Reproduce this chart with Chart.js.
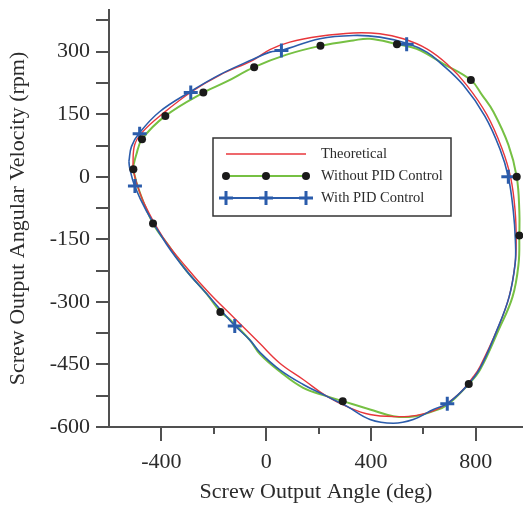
<!DOCTYPE html>
<html lang="en">
<head>
  <meta charset="UTF-8">
  <title>Screw Output Phase Plot</title>
  <script src="https://cdn.jsdelivr.net/npm/chart.js"></script>
  <style>
    html, body {
      margin: 0;
      padding: 0;
      background: #fff;
      overflow: hidden;
    }
    #wrap {
      position: relative;
      width: 533px;
      height: 508px;
    }
  </style>
</head>
<body>
  <div id="wrap"><canvas id="phaseChart"></canvas></div>

  <script>
    // curves (angle in deg, angular velocity in rpm), traced clockwise
    const theoX = [-509, -502, -470, -394, -285, -177, -50, 14, 90, 205, 332, 434, 523, 613, 689, 765, 842, 899, 933, 950, 954, 950, 927, 881, 816, 791, 740, 663, 574, 485, 396, 319, 230, 141, 52, -24, -126, -216, -305, -394, -464, -497, -509];
    const theoY = [22, 77, 109, 152, 204, 244, 280, 305, 323, 337, 345, 343, 331, 307, 271, 220, 149, 69, -2, -82, -153, -208, -288, -367, -455, -479, -518, -554, -572, -575, -570, -554, -526, -486, -447, -400, -336, -280, -217, -145, -66, -10, 22];

    const noPidX = [-509, -496, -474, -385, -240, -152, -46, 78, 207, 332, 396, 499, 574, 676, 781, 824, 867, 924, 956, 966, 966, 963, 940, 887, 816, 773, 689, 638, 561, 485, 396, 292, 230, 141, 52, -24, -63, -139, -175, -228, -305, -368, -432, -489, -509];
    const noPidY = [21, 53, 90, 146, 202, 228, 263, 293, 314, 327, 331, 318, 307, 271, 232, 196, 156, 77, 0, -82, -141, -209, -288, -367, -463, -497, -548, -562, -575, -574, -558, -538, -526, -506, -467, -425, -391, -342, -324, -280, -225, -169, -112, -26, 21];

    const pidX = [-524, -514, -483, -407, -290, -177, -50, 14, 58, 205, 332, 434, 536, 613, 663, 752, 835, 893, 924, 943, 951, 950, 927, 881, 816, 765, 691, 638, 561, 485, 396, 307, 230, 141, 52, -24, -63, -120, -139, -228, -305, -381, -457, -502, -521, -524];
    const pidY = [37, 73, 106, 156, 204, 245, 282, 299, 303, 331, 339, 335, 320, 299, 274, 220, 145, 65, 0, -82, -153, -208, -288, -367, -459, -502, -544, -558, -582, -591, -582, -550, -526, -498, -463, -421, -391, -357, -344, -280, -225, -161, -82, -22, 21, 37];

    // sampled markers
    const noPidDotX = [-507, -474, -385, -240, -46, 207, 499, 781, 956, 966, 773, 292, -175, -432];
    const noPidDotY = [18, 90, 146, 202, 263, 314, 318, 232, 0, -141, -497, -538, -324, -112];
    const pidCrossX = [-501, -483, -288, 58, 536, 924, 691, -120];
    const pidCrossY = [-22, 103, 202, 303, 318, 0, -544, -358];

    const xLabelTicks = [-400, 0, 400, 800];
    const xAllTicks = [-400, -200, 0, 200, 400, 600, 800];
    const yLabelTicks = [-600, -450, -300, -150, 0, 150, 300];
    const yAllTicks = [-600, -525, -450, -375, -300, -225, -150, -75, 0, 75, 150, 225, 300, 375];

    const legendItems = ["Theoretical", "Without PID Control", "With PID Control"];

    const RED = "#e8363b";
    const GREEN = "#76c043";
    const BLUE = "#2b5cab";
    const AXIS = "#505050";
    const TEXT = "#2b2b2b";
    const SERIF = "'Liberation Serif', 'Times New Roman', serif";

    function pts(xs, ys) {
      return xs.map((x, i) => ({x: x, y: ys[i]}));
    }

    const axisTicks = {
      id: "axisTicks",
      afterDraw(chart) {
        const {ctx, chartArea, scales} = chart;
        ctx.save();
        ctx.strokeStyle = AXIS;
        ctx.lineWidth = 2;
        ctx.beginPath();
        xAllTicks.forEach(v => {
          const px = Math.round(scales.x.getPixelForValue(v));
          const len = xLabelTicks.includes(v) ? 14 : 7;
          ctx.moveTo(px, chartArea.bottom);
          ctx.lineTo(px, chartArea.bottom + len);
        });
        yAllTicks.forEach(v => {
          const py = Math.round(scales.y.getPixelForValue(v));
          ctx.moveTo(chartArea.left - 13, py);
          ctx.lineTo(chartArea.left, py);
        });
        ctx.stroke();
        ctx.restore();
      }
    };

    function drawCross(ctx, x, y, r) {
      ctx.beginPath();
      ctx.moveTo(x - r, y);
      ctx.lineTo(x + r, y);
      ctx.moveTo(x, y - r);
      ctx.lineTo(x, y + r);
      ctx.stroke();
    }

    const boxLegend = {
      id: "boxLegend",
      afterDraw(chart) {
        const ctx = chart.ctx;
        const bx = 213, by = 138, bw = 238, bh = 78;
        ctx.save();
        ctx.fillStyle = "#fff";
        ctx.fillRect(bx, by, bw, bh);
        ctx.strokeStyle = "#333";
        ctx.lineWidth = 1.5;
        ctx.strokeRect(bx, by, bw, bh);

        const rows = [154, 176, 198];
        const x0 = 226, x1 = 306;

        ctx.lineWidth = 1.5;
        ctx.strokeStyle = RED;
        ctx.beginPath(); ctx.moveTo(x0, rows[0]); ctx.lineTo(x1, rows[0]); ctx.stroke();

        ctx.lineWidth = 2;
        ctx.strokeStyle = GREEN;
        ctx.beginPath(); ctx.moveTo(x0, rows[1]); ctx.lineTo(x1, rows[1]); ctx.stroke();
        ctx.fillStyle = "#1a1a1a";
        [x0, (x0 + x1) / 2, x1].forEach(px => {
          ctx.beginPath(); ctx.arc(px, rows[1], 4, 0, Math.PI * 2); ctx.fill();
        });

        ctx.lineWidth = 2;
        ctx.strokeStyle = BLUE;
        ctx.beginPath(); ctx.moveTo(x0, rows[2]); ctx.lineTo(x1, rows[2]); ctx.stroke();
        ctx.lineWidth = 3;
        [x0, (x0 + x1) / 2, x1].forEach(px => drawCross(ctx, px, rows[2], 7));

        ctx.fillStyle = TEXT;
        ctx.font = "14.5px " + SERIF;
        ctx.textBaseline = "middle";
        ctx.textAlign = "left";
        legendItems.forEach((t, i) => ctx.fillText(t, 321, rows[i]));
        ctx.restore();
      }
    };

    const curve = (label, xs, ys, color, width, order) => ({
      label: label,
      data: pts(xs, ys),
      showLine: true,
      borderColor: color,
      borderWidth: width,
      backgroundColor: color,
      pointRadius: 0,
      tension: 0.4,
      fill: false,
      order: order
    });

    new Chart(document.getElementById("phaseChart"), {
      type: "scatter",
      data: {
        datasets: [
          {
            label: "Without PID markers",
            data: pts(noPidDotX, noPidDotY),
            pointStyle: "circle",
            pointRadius: 4,
            pointBackgroundColor: "#1a1a1a",
            pointBorderWidth: 0,
            showLine: false,
            order: 0
          },
          {
            label: "With PID markers",
            data: pts(pidCrossX, pidCrossY),
            pointStyle: "cross",
            pointRadius: 7,
            pointBorderColor: BLUE,
            pointBorderWidth: 3,
            showLine: false,
            order: 0
          },
          curve(legendItems[2], pidX, pidY, BLUE, 1.6, 1),
          curve(legendItems[0], theoX, theoY, RED, 1.4, 2),
          curve(legendItems[1], noPidX, noPidY, GREEN, 2, 3)
        ]
      },
      options: {
        responsive: true,
        maintainAspectRatio: false,
        animation: false,
        layout: { padding: { top: 8, right: 0, bottom: 0, left: 0 } },
        plugins: {
          legend: { display: false },
          tooltip: { enabled: false }
        },
        scales: {
          x: {
            type: "linear",
            position: "bottom",
            min: -600,
            max: 980,
            grid: { display: false, drawTicks: false },
            border: { display: true, color: AXIS, width: 2 },
            afterBuildTicks: s => { s.ticks = xLabelTicks.map(v => ({value: v})); },
            afterFit: s => { s.height = 81; s.paddingLeft = 0; s.paddingRight = 0; },
            ticks: {
              padding: 22,
              color: TEXT,
              font: { family: SERIF, size: 22 },
              callback: v => String(v)
            },
            title: {
              display: true,
              text: "Screw Output Angle (deg)",
              color: TEXT,
              font: { family: SERIF, size: 22 },
              padding: { top: 0, bottom: 3 }
            }
          },
          y: {
            type: "linear",
            position: "left",
            min: -600,
            max: 400,
            grid: { display: false, drawTicks: false },
            border: { display: true, color: AXIS, width: 2 },
            afterBuildTicks: s => { s.ticks = yLabelTicks.map(v => ({value: v})); },
            afterFit: s => { s.width = 109; s.paddingTop = 0; s.paddingBottom = 0; },
            ticks: {
              padding: 19,
              color: TEXT,
              font: { family: SERIF, size: 22 },
              callback: v => String(v)
            },
            title: {
              display: true,
              text: "Screw Output Angular Velocity (rpm)",
              color: TEXT,
              font: { family: SERIF, size: 22 },
              padding: { top: 5, bottom: 0 }
            }
          }
        }
      },
      plugins: [axisTicks, boxLegend]
    });
  </script>
</body>
</html>
